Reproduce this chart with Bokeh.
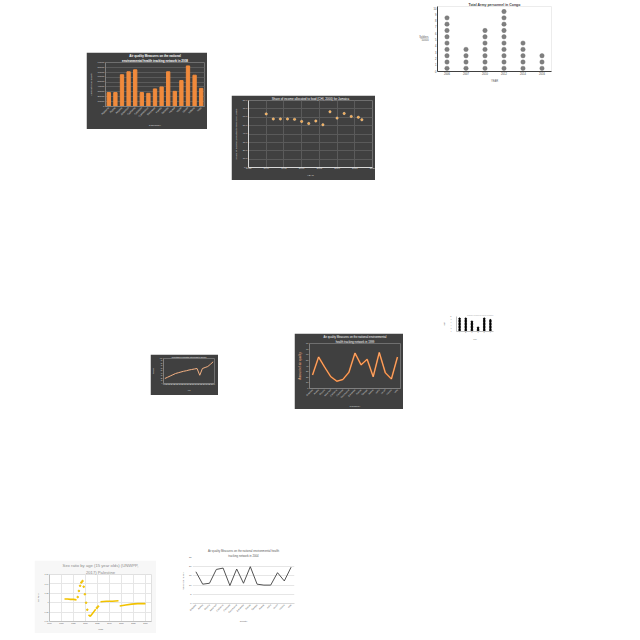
from bokeh.plotting import figure
from bokeh.layouts import row, column
from bokeh.models import Range1d, FixedTicker, Spacer, Title, PrintfTickFormatter
from bokeh.embed import file_html
from bokeh.resources import INLINE

FONT = "Liberation Sans"
NAN = float("nan")

# ---------------- data ----------------
c1_states = ["Alabama", "Alaska", "Arizona", "Arkansas", "California", "Colorado", "Connecticut",
             "Delaware", "Florida", "Georgia", "Hawaii", "Idaho", "Illinois", "Indiana", "Iowa"]
c1_values = [28500, 28500, 65000, 71000, 75000, 28500, 27000, 36000, 40000, 71000, 31000, 53000, 83000, 64000, 37000]

c2_years = [1990, 1992, 1994, 1996, 1998, 2000, 2002, 2004, 2006, 2008, 2010, 2012, 2014, 2016, 2017]
c2_share = [64, 58, 58, 58, 57.5, 55, 52.5, 55.5, 51, 66.5, 59, 64.5, 61, 60, 57]

c3_years = ["2006", "2007", "2010", "2012", "2014", "2016"]
c3_soldiers = [9, 4, 7, 10, 5, 3]

c4_years = [str(y) for y in range(1999, 2018)]
c4_values = [20, 25, 30, 35, 40, 43, 46, 49, 51, 54, 56, 58, 60, 33, 60, 64, 68, 77, 87]

c5_states = c1_states
c5_values = [24, 56, 38, 21, 13, 16, 29, 63, 42, 52, 21, 64, 28, 17, 56]

c6_groups = ["A", "B", "C", "D", "E", "F"]
c6_counts = [9, 9, 7, 3, 9, 8]

c7_years = [1965, 1970, 1975, 1980, 1985, NAN, 2005, 2008, 2011, 2014, 2017, NAN,
            2025, 2035, 2045, 2055, NAN, 2057, 2067, 2077, 2087, 2100]
c7_ratio = [1.008, 1.008, 1.007, 1.007, 1.006, NAN, 0.974, 0.971, 0.976, 0.981, 0.986, NAN,
            1.002, 1.003, 1.003, 1.004, NAN, 0.993, 0.995, 0.997, 0.998, 0.998]
c7_dot_years = [1987, 1989, 1991, 1993, 1995, 1997, 1999, 2001, 2003, 2019, 2021]
c7_dot_ratio = [1.012, 1.025, 1.036, 1.043, 1.046, 1.034, 1.018, 1.0, 0.985, 0.989, 0.992]

c8_states = c1_states
c8_values = [17.25, 10.5, 11, 18.5, 19.25, 9.75, 18.75, 11, 20, 10.5, 10, 10, 16.75, 12.25, 19.75]

DARK = "#404040"


def style(p, dark, fs="3px", title_fs="3.5px"):
    txt = "#d9d9d9" if dark else "#595959"
    p.min_border_left = 2
    p.min_border_right = 3
    p.min_border_top = 2
    p.min_border_bottom = 2
    p.outline_line_color = None
    p.background_fill_color = DARK if dark else "white"
    p.border_fill_color = DARK if dark else "white"
    for ax in p.axis:
        ax.major_label_text_font_size = fs
        ax.major_label_text_font = FONT
        ax.major_label_text_color = txt
        ax.axis_label_text_font_size = fs
        ax.axis_label_text_font = FONT
        ax.axis_label_text_color = txt
        ax.axis_label_text_font_style = "normal"
        ax.major_label_standoff = 1
        ax.axis_label_standoff = 2
        ax.major_tick_line_color = None
        ax.minor_tick_line_color = None
        ax.major_tick_out = 0
        ax.axis_line_color = "#7f7f7f" if dark else "#bfbfbf"
    p.grid.grid_line_color = "#5a5a5a" if dark else "#e6e6e6"
    p.xgrid.grid_line_color = None
    p.title.text_font = FONT
    p.title.text_font_size = title_fs
    p.title.text_color = "white" if dark else "#595959"
    p.title.text_font_style = "normal"
    p.title.align = "center"
    p.title.standoff = 0
    p.title.offset = 0


def add_title_line(p, text, color, size, fstyle="normal"):
    t = Title(text=text, align="center", text_font=FONT,
              text_font_size=size, text_color=color,
              text_font_style=fstyle, standoff=0, offset=0)
    p.add_layout(t, "above")


# ---------- chart 1: bars ----------
p1 = figure(width=121, height=77, x_range=c1_states, y_range=Range1d(0, 90000),
            output_backend="svg", toolbar_location=None,
            title="Air quality Measures on the national")
p1.vbar(x=c1_states, top=c1_values, width=0.5, color="#f08a3c")
style(p1, True, fs="2.5px", title_fs="3px")
p1.title.text_font_style = "bold"
add_title_line(p1, "environmental health tracking network in 2008", "white", "3px", "bold")
p1.yaxis.ticker = FixedTicker(ticks=list(range(0, 90001, 10000)))
p1.yaxis.axis_label = "Amount of air quality"
p1.xaxis.axis_label = "COUNTRY"
p1.xaxis.major_label_orientation = 0.8
p1.min_border_top = 3

# ---------- chart 2: scatter ----------
p2 = figure(width=144, height=85, x_range=Range1d(1985, 2020), y_range=Range1d(0, 80),
            output_backend="svg", toolbar_location=None,
            title="Share of income allocated to food (CHI, 2000) for Jamaica")
p2.scatter(x=c2_years, y=c2_share, size=2.4, color="#f4a64a", line_color="#ffe2bd", line_width=0.4)
style(p2, True, fs="2.5px", title_fs="3px")
p2.xaxis.ticker = FixedTicker(ticks=list(range(1985, 2021, 5)))
p2.yaxis.ticker = FixedTicker(ticks=list(range(0, 81, 10)))
p2.yaxis.formatter = PrintfTickFormatter(format="%.1f")
p2.xaxis.axis_label = "YEAR"
p2.yaxis.axis_label = "Share of income allocated to food (CHI, 2000)"
p2.xgrid.grid_line_color = "#5a5a5a"
p2.xaxis.axis_line_color = "#d9d9d9"
p2.yaxis.axis_line_color = "#d9d9d9"
p2.min_border_left = 4
p2.min_border_top = 3

# ---------- chart 3: dot plot ----------
p3 = figure(width=143, height=86, x_range=c3_years, y_range=Range1d(0, 10.3),
            output_backend="svg", toolbar_location=None,
            title="Total Army personnel in Congo")
dx, dy = [], []
for yr, n in zip(c3_years, c3_soldiers):
    for k in range(n):
        dx.append(yr)
        dy.append(k + 0.5)
p3.scatter(x=dx, y=dy, size=4.4, color="#7f7f7f", line_color="#6b6b6b", line_width=0.4)
style(p3, False, fs="2.6px", title_fs="3.5px")
p3.yaxis.ticker = FixedTicker(ticks=list(range(0, 11)))
p3.yaxis.axis_label = "Soldiers\n*10000"
p3.yaxis.axis_label_orientation = "horizontal"
p3.xaxis.axis_label = "YEAR"
p3.ygrid.grid_line_color = None
p3.xaxis.axis_line_color = "#404040"
p3.yaxis.axis_line_color = "#404040"
p3.xaxis.major_label_text_color = "#404040"
p3.yaxis.major_label_text_color = "#404040"
p3.outline_line_color = "#ececec"
p3.title.text_color = "#404040"
p3.title.text_font_style = "bold"
p3.min_border_left = 14
p3.min_border_right = 8
p3.min_border_top = 3

# ---------- chart 4: small line ----------
p4 = figure(width=68, height=41, x_range=c4_years, y_range=Range1d(0, 100),
            output_backend="svg", toolbar_location=None,
            title="Percentage of population with access to services")
p4.line(x=c4_years, y=c4_values, line_color="#f4b183", line_width=1)
style(p4, True, fs="1.6px", title_fs="1.6px")
p4.yaxis.ticker = FixedTicker(ticks=list(range(0, 101, 10)))
p4.yaxis.axis_label = "Percent"
p4.xaxis.axis_label = "Year"
p4.ygrid.grid_line_color = None
p4.min_border_left = 5
p4.min_border_right = 4

# ---------- chart 5: orange line ----------
p5 = figure(width=109, height=76, x_range=c5_states, y_range=Range1d(0, 80),
            output_backend="svg", toolbar_location=None,
            title="Air quality Measures on the national environmental")
p5.line(x=c5_states, y=c5_values, line_color="#e8701e", line_width=1.6)
p5.line(x=c5_states, y=c5_values, line_color="#fde0c8", line_width=0.5)
style(p5, True, fs="2.2px", title_fs="2.8px")
add_title_line(p5, "health tracking network in 1999", "white", "2.8px")
p5.yaxis.ticker = FixedTicker(ticks=list(range(0, 81, 10)))
p5.yaxis.axis_label = "Amount of air quality"
p5.yaxis.axis_label_text_color = "#f4b183"
p5.yaxis.axis_label_text_font_size = "3px"
p5.xaxis.axis_label = "COUNTRY"
p5.xaxis.major_label_orientation = 0.8
p5.ygrid.grid_line_color = None
p5.min_border_left = 4
p5.min_border_top = 3

# ---------- chart 6: tiny dot plot ----------
p6 = figure(width=56, height=31, x_range=c6_groups, y_range=Range1d(0, 10),
            output_backend="svg", toolbar_location=None,
            title="Number of items per group in sample")
ex, ey = [], []
for g, n in zip(c6_groups, c6_counts):
    for k in range(n):
        ex.append(g)
        ey.append(k + 0.5)
p6.scatter(x=ex, y=ey, size=1.6, color="black")
style(p6, False, fs="1.2px", title_fs="1.6px")
p6.title.text_color = "#a6a6a6"
p6.title.align = "right"
p6.yaxis.axis_label = "Count"
p6.xaxis.axis_label = "Group"
p6.ygrid.grid_line_color = None
p6.min_border_left = 8
p6.min_border_right = 3

# ---------- chart 7: sex ratio ----------
p7 = figure(width=122, height=73, x_range=Range1d(1940, 2110), y_range=Range1d(0.96, 1.06),
            output_backend="svg", toolbar_location=None,
            title="Sex ratio by age (15 year olds) (UNWPP,")
p7.line(x=c7_years, y=c7_ratio, line_color="#f2c200", line_width=1.6)
p7.scatter(x=c7_dot_years, y=c7_dot_ratio, size=1.6, color="#f2c200")
style(p7, False, fs="2px", title_fs="4.2px")
p7.title.text_color = "#8c8c8c"
add_title_line(p7, "2017) Palestine", "#8c8c8c", "4.2px")
p7.xaxis.ticker = FixedTicker(ticks=list(range(1940, 2111, 20)))
p7.yaxis.ticker = FixedTicker(ticks=[0.96, 0.98, 1.0, 1.02, 1.04, 1.06])
p7.yaxis.axis_label = "Sex Ratio"
p7.xaxis.axis_label = "Years"
p7.xgrid.grid_line_color = "#e6e6e6"
p7.outline_line_color = "#e0e0e0"
p7.background_fill_color = "white"
p7.border_fill_color = "#f7f7f7"
p7.min_border_left = 6
p7.min_border_right = 5
p7.min_border_bottom = 4
p7.min_border_top = 3

# ---------- chart 8: grey line ----------
p8 = figure(width=119, height=77, x_range=c8_states, y_range=Range1d(0, 25),
            output_backend="svg", toolbar_location=None,
            title="Air quality Measures on the national environmental health")
p8.line(x=c8_states, y=c8_values, line_color="#404040", line_width=0.9)
style(p8, False, fs="2.2px", title_fs="2.8px")
add_title_line(p8, "tracking network in 2004", "#595959", "2.8px")
p8.yaxis.ticker = FixedTicker(ticks=list(range(0, 26, 5)))
p8.yaxis.axis_label = "Value of air quality"
p8.xaxis.axis_label = "Country"
p8.xaxis.major_label_orientation = 0.8
p8.xaxis.axis_line_color = "#d9d9d9"
p8.yaxis.axis_line_color = None
p8.min_border_left = 4
p8.min_border_top = 3


def sp(w=1, h=1):
    return Spacer(width=w, height=h)


band_a = row(sp(86), column(sp(121, 52), p1), sp(24), column(sp(144, 95), p2), sp(41), p3)
band_b = row(sp(150), column(sp(68, 174), p4), sp(76), column(sp(109, 153), p5), sp(37), column(sp(56, 132), p6))
band_c = row(sp(34), column(sp(122, 151), p7), sp(22), column(sp(119, 138), p8))
layout = column(band_a, band_b, band_c)

open("out.html", "w").write(file_html(layout, INLINE))
